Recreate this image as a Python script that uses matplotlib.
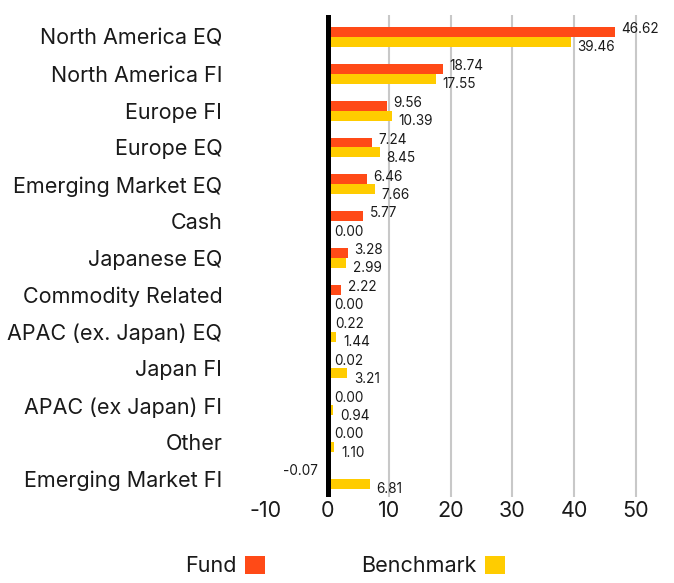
import matplotlib
matplotlib.use("Agg")
import matplotlib.pyplot as plt
from matplotlib.patches import Patch
import numpy as np

FUND_COLOR = '#FF4A17'
BENCH_COLOR = '#FFCC00'
GRID_COLOR = '#C8C8C8'
TEXT_COLOR = '#1a1a1a'

categories = ['North America EQ', 'North America FI', 'Europe FI', 'Europe EQ',
              'Emerging Market EQ', 'Cash', 'Japanese EQ', 'Commodity Related',
              'APAC (ex. Japan) EQ', 'Japan FI', 'APAC (ex Japan) FI', 'Other',
              'Emerging Market FI']
fund = [46.62, 18.74, 9.56, 7.24, 6.46, 5.77, 3.28, 2.22, 0.22, 0.02, 0.00, 0.00, -0.07]
benchmark = [39.46, 17.55, 10.39, 8.45, 7.66, 0.00, 2.99, 0.00, 1.44, 3.21, 0.94, 1.10, 6.81]
xticks = [-10, 0, 10, 20, 30, 40, 50]

plt.rcParams['font.family'] = ['Inter', 'DejaVu Sans']
BIG = 15.5

fig = plt.figure(figsize=(6.74, 5.83), dpi=100)
ax = fig.add_axes([0.3947, 0.1475, 0.594, 0.827])

y = np.arange(len(categories))
h = 0.27
ax.barh(y - h / 2, fund, height=h, color=FUND_COLOR, zorder=3)
ax.barh(y + h / 2, benchmark, height=h, color=BENCH_COLOR, zorder=3)

# value labels
for yi, v in zip(y, fund):
    if v < 0:
        ax.annotate(f'{v:.2f}', (0, yi - h / 2), xytext=(-7, 2), textcoords='offset points',
                    ha='right', va='center', fontsize=9.8, color=TEXT_COLOR)
    else:
        ax.annotate(f'{v:.2f}', (v, yi - h / 2), xytext=(4.5, 2), textcoords='offset points',
                    ha='left', va='center', fontsize=9.8, color=TEXT_COLOR)
for yi, v in zip(y, benchmark):
    ax.annotate(f'{v:.2f}', (max(v, 0), yi + h / 2), xytext=(5, -4), textcoords='offset points',
                ha='left', va='center', fontsize=9.8, color=TEXT_COLOR)

for t in xticks:
    if t > 0:
        ax.axvline(t, color=GRID_COLOR, lw=1.5, zorder=1)
ax.axvline(0, color='black', lw=3.6, zorder=4)

ax.set_xlim(-10, 55)
ax.set_ylim(12.49, -0.6)
ax.set_xticks(xticks)
ax.set_xticklabels([str(t) for t in xticks], fontsize=BIG, color=TEXT_COLOR)
ax.set_yticks(y)
ax.set_yticklabels(categories, fontsize=BIG, color=TEXT_COLOR)
ax.tick_params(length=0, axis='y', pad=31.5)
ax.tick_params(length=0, axis='x', pad=3)
for s in ax.spines.values():
    s.set_visible(False)

handles = [Patch(facecolor=FUND_COLOR, label='Fund'),
           Patch(facecolor=BENCH_COLOR, label='Benchmark')]
fig.legend(handles=handles, loc='center', bbox_to_anchor=(0.512, 0.029), ncol=2,
           frameon=False, markerfirst=False, fontsize=BIG, handlelength=0.93,
           handleheight=0.93, handletextpad=0.42, columnspacing=4.45, labelcolor=TEXT_COLOR)

fig.savefig('out.png', dpi=100)
